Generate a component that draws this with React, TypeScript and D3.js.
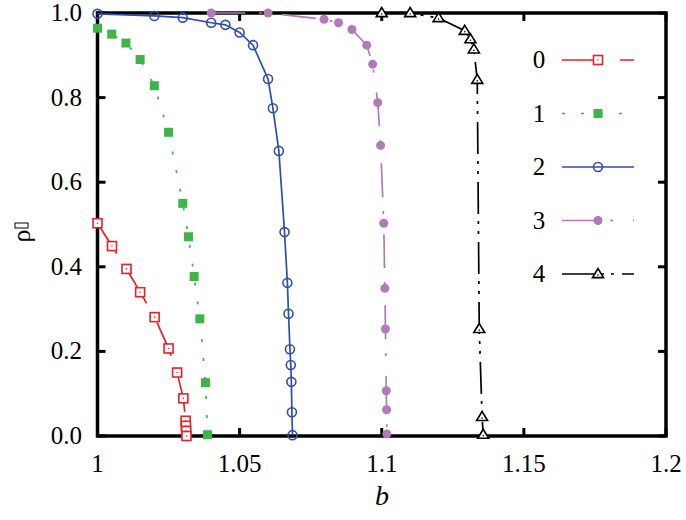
import React from "react";
import * as d3 from "d3";

const X_TICKS = [1, 1.05, 1.1, 1.15, 1.2];
const X_TICK_LABELS = ["1", "1.05", "1.1", "1.15", "1.2"];
const Y_TICKS = [0, 0.2, 0.4, 0.6, 0.8, 1.0];
const Y_TICK_LABELS = ["0.0", "0.2", "0.4", "0.6", "0.8", "1.0"];

const SERIES_NAMES = ["0", "1", "2", "3", "4"];

const b0 = [1.0, 1.0051, 1.0102, 1.015, 1.0201, 1.025, 1.028, 1.0302, 1.031, 1.0311, 1.0312, 1.0313];
const rho0 = [0.503, 0.449, 0.395, 0.34, 0.281, 0.207, 0.15, 0.089, 0.036, 0.024, 0.012, 0.0];

const b1 = [1.0, 1.005, 1.01, 1.015, 1.02, 1.025, 1.03, 1.032, 1.034, 1.036, 1.038, 1.0387];
const rho1 = [0.964, 0.95, 0.929, 0.89, 0.828, 0.718, 0.55, 0.471, 0.377, 0.277, 0.126, 0.003];

const b2 = [1.0, 1.02, 1.03, 1.04, 1.045, 1.05, 1.0547, 1.06, 1.0617, 1.0638, 1.0658, 1.0668, 1.0672, 1.0677, 1.068, 1.0682, 1.0684, 1.0686];
const rho2 = [0.998, 0.993, 0.989, 0.977, 0.972, 0.954, 0.924, 0.844, 0.775, 0.674, 0.482, 0.362, 0.289, 0.205, 0.168, 0.128, 0.056, 0.002];

const b3 = [1.04, 1.06, 1.0797, 1.0848, 1.0895, 1.0947, 1.0968, 1.0986, 1.0996, 1.1007, 1.1011, 1.1013, 1.1016, 1.1017, 1.1018];
const rho3 = [1.0, 1.0, 0.985, 0.977, 0.961, 0.924, 0.879, 0.788, 0.687, 0.503, 0.349, 0.253, 0.107, 0.062, 0.005];

const b4 = [1.1, 1.11, 1.12, 1.1292, 1.1312, 1.1324, 1.1336, 1.1343, 1.1353, 1.1357];
const rho4 = [1.0, 1.0, 0.988, 0.958, 0.938, 0.914, 0.842, 0.253, 0.045, 0.003];

const W = 686;
const H = 520;
const L = 97.5, R = 666, T = 13, B = 436;

const FONT = "Liberation Serif, Times New Roman, Times, serif";

type Style = { color: string; dash: string | null; marker: string };
const STYLES: Style[] = [
  { color: "#e8202a", dash: "36,22", marker: "square" },
  { color: "#3db54a", dash: "3,16", marker: "fsquare" },
  { color: "#2f4fa8", dash: null, marker: "circle" },
  { color: "#b07cb8", dash: "34,14,3,20", marker: "fcircle" },
  { color: "#000000", dash: "32,7,3,7,3,8", marker: "triangle" },
];

function Marker({ kind, x, y, color }: { kind: string; x: number; y: number; color: string }) {
  if (kind === "square") {
    return (
      <g>
        <rect x={x - 4.5} y={y - 4.5} width={9} height={9} fill="white" stroke={color} strokeWidth={1.6} />
        <circle cx={x} cy={y} r={0.8} fill={color} />
      </g>
    );
  }
  if (kind === "fsquare") {
    return <rect x={x - 4.5} y={y - 4.5} width={9} height={9} fill={color} />;
  }
  if (kind === "circle") {
    return <circle cx={x} cy={y} r={4.5} fill="none" stroke={color} strokeWidth={1.6} />;
  }
  if (kind === "fcircle") {
    return <circle cx={x} cy={y} r={4.5} fill={color} />;
  }
  const s = 5.5;
  const pts = `${x},${y - s} ${x - s},${y + s * 0.65} ${x + s},${y + s * 0.65}`;
  return (
    <g>
      <polygon points={pts} fill="white" stroke={color} strokeWidth={1.6} />
      <circle cx={x} cy={y + 1} r={0.8} fill={color} />
    </g>
  );
}

export default function App() {
  const x = d3.scaleLinear().domain([1, 1.2]).range([L, R]);
  const y = d3.scaleLinear().domain([0, 1]).range([B, T]);

  const series = [
    { b: b0, r: rho0 },
    { b: b1, r: rho1 },
    { b: b2, r: rho2 },
    { b: b3, r: rho3 },
    { b: b4, r: rho4 },
  ];

  const line = d3
    .line<[number, number]>()
    .x((d) => x(d[0]))
    .y((d) => y(d[1]));

  const tickLen = 8;
  const legX1 = 562, legX2 = 634, legM = 598, legLabelX = 539;
  const legY0 = 60, legDY = 53.5;

  return (
    <svg width={W} height={H} style={{ position: "absolute", left: 0, top: 0, background: "white" }} fontFamily={FONT}>
      <rect x={0} y={0} width={W} height={H} fill="white" />
      {X_TICKS.map((t, i) => (
        <g key={"xt" + i}>
          <line x1={x(t)} x2={x(t)} y1={B} y2={B - tickLen} stroke="black" strokeWidth={3} />
          <line x1={x(t)} x2={x(t)} y1={T} y2={T + tickLen} stroke="black" strokeWidth={3} />
          <text x={x(t)} y={472} textAnchor="middle" fontSize={25}>
            {X_TICK_LABELS[i]}
          </text>
        </g>
      ))}
      {Y_TICKS.map((t, i) => (
        <g key={"yt" + i}>
          <line x1={L} x2={L + tickLen} y1={y(t)} y2={y(t)} stroke="black" strokeWidth={3} />
          <line x1={R} x2={R - tickLen} y1={y(t)} y2={y(t)} stroke="black" strokeWidth={3} />
          <text x={82} y={y(t) + 8} textAnchor="end" fontSize={25}>
            {Y_TICK_LABELS[i]}
          </text>
        </g>
      ))}
      <rect x={L} y={T} width={R - L} height={B - T} fill="none" stroke="black" strokeWidth={3.5} />

      {series.map((s, i) => (
        <path
          key={"l" + i}
          d={line(s.b.map((bv, j) => [bv, s.r[j]] as [number, number])) || ""}
          fill="none"
          stroke={STYLES[i].color}
          strokeWidth={1.7}
          strokeDasharray={STYLES[i].dash || undefined}
        />
      ))}
      {series.map((s, i) => (
        <g key={"m" + i}>
          {s.b.map((bv, j) => (
            <Marker key={j} kind={STYLES[i].marker} x={x(bv)} y={y(s.r[j])} color={STYLES[i].color} />
          ))}
        </g>
      ))}

      {SERIES_NAMES.map((name, i) => {
        const ly = legY0 + i * legDY;
        return (
          <g key={"lg" + i}>
            <text x={legLabelX} y={ly + 8} textAnchor="middle" fontSize={25}>
              {name}
            </text>
            <line
              x1={legX1}
              x2={legX2}
              y1={ly}
              y2={ly}
              stroke={STYLES[i].color}
              strokeWidth={1.7}
              strokeDasharray={STYLES[i].dash || undefined}
            />
            <Marker kind={STYLES[i].marker} x={legM} y={ly} color={STYLES[i].color} />
          </g>
        );
      })}

      <text x={382} y={505} textAnchor="middle" fontSize={28} fontStyle="italic">
        b
      </text>
      <g transform="translate(30,236) rotate(-90)">
        <text x={0} y={0} textAnchor="middle" fontSize={26}>
          ρ
        </text>
        <rect x={8} y={-15} width={5} height={13} fill="none" stroke="black" strokeWidth={1} />
      </g>
    </svg>
  );
}
